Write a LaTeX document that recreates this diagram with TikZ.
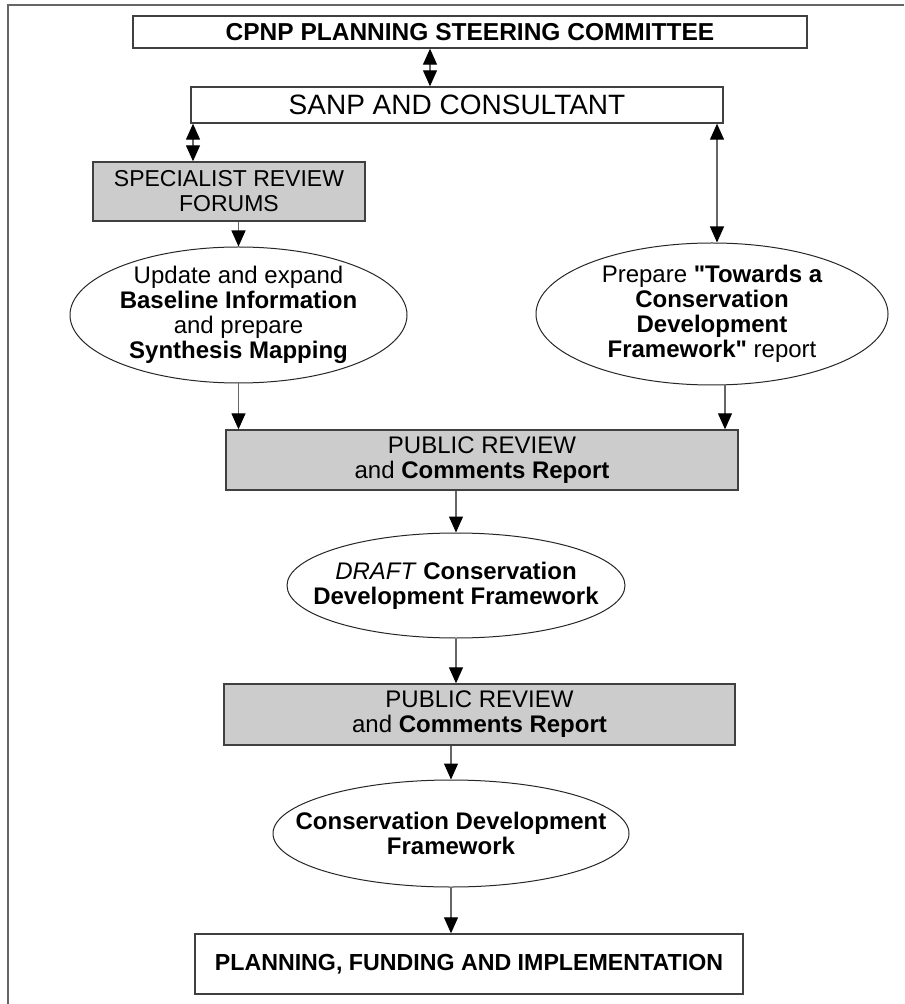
\documentclass[tikz,border=0pt]{standalone}
\usepackage{fontspec}
\setmainfont{Liberation Sans}
\newfontfamily\quotefont{Liberation Sans}[Ligatures=ResetAll]
\newcommand\straightquote{{\quotefont\char34}}
\usetikzlibrary{shapes.geometric,arrows.meta}

\begin{document}
\begin{tikzpicture}[x=0.5pt,y=-0.5pt,>={Triangle[width=7pt,length=8pt,color=black]},
  box/.style={draw=black!75,line width=0.7pt,rectangle,inner sep=0pt,align=center,font=\fontsize{12}{12.5}\selectfont},
  greybox/.style={box,fill=black!20},
  oval/.style={draw=black!85,line width=0.5pt,ellipse,inner xsep=-20pt,inner ysep=-3pt,align=center,font=\fontsize{12}{12.5}\selectfont},
  link/.style={->,draw=black!60,line width=0.6pt}]
\useasboundingbox (0,0) rectangle (904,1004);
\draw[black!60,line width=0.8pt] (8,1004) -- (8,5) -- (904,5);

\node[box,minimum width=337pt,minimum height=16pt,font=\bfseries\fontsize{12.25}{13}\selectfont] (cpnp) at (470,32) {CPNP PLANNING STEERING COMMITTEE};
\node[box,minimum width=266pt,minimum height=18pt,font=\fontsize{14}{15}\selectfont] (sanp) at (457,105) {SANP AND CONSULTANT};
\node[greybox,minimum width=136pt,minimum height=29.5pt,font=\fontsize{11.5}{12.5}\selectfont] (forums) at (229,191.5) {SPECIALIST REVIEW\\FORUMS};

\node[oval,minimum width=168.5pt,minimum height=68pt] (baseline) at (238.5,315) {Update and expand\\\textbf{Baseline Information}\\and prepare\\\textbf{Synthesis Mapping}};
\node[oval,minimum width=176pt,minimum height=71pt] (towards) at (712,314) {Prepare \textbf{\straightquote Towards a}\\\textbf{Conservation}\\\textbf{Development}\\\textbf{Framework\straightquote} report};

\node[greybox,minimum width=256pt,minimum height=30pt] (review1) at (482,460) {PUBLIC REVIEW\\and \textbf{Comments Report}};
\node[oval,minimum width=169pt,minimum height=52.5pt] (draft) at (456,585.5) {\textit{DRAFT} \textbf{Conservation}\\\textbf{Development Framework}};
\node[greybox,minimum width=255.5pt,minimum height=30.5pt] (review2) at (479.5,714.5) {PUBLIC REVIEW\\and \textbf{Comments Report}};
\node[oval,minimum width=178pt,minimum height=53.5pt] (cdf) at (451,833.5) {\textbf{Conservation Development}\\\textbf{Framework}};
\node[box,minimum width=274pt,minimum height=30pt,font=\bfseries\fontsize{11.6}{13}\selectfont] (plan) at (469,964) {PLANNING, FUNDING AND IMPLEMENTATION};

% two-way links to the consultant
\coordinate (cpnp-link) at ([xshift=-13.5pt]sanp.north);
\coordinate (forums-link) at ([xshift=-18pt]forums.north);
\coordinate (towards-link) at ([xshift=2.5pt]towards.north);
\draw[link,<->] (cpnp-link) -- (cpnp-link |- cpnp.south);
\draw[link,<->] (forums-link |- sanp.south) -- (forums-link);
\draw[link,<->] (towards-link |- sanp.south) -- (towards-link);

% flow down
\coordinate (towards-out) at ([xshift=6.5pt]towards.south);
\draw[link] (baseline.north |- forums.south) -- (baseline.north);
\draw[link] (baseline.south) -- (baseline.south |- review1.north);
\draw[link] (towards-out) -- (towards-out |- review1.north);
\draw[link] (draft.north |- review1.south) -- (draft.north);
\draw[link] (draft.south) -- (draft.south |- review2.north);
\draw[link] (cdf.north |- review2.south) -- (cdf.north);
\draw[link] (cdf.south) -- (cdf.south |- plan.north);
\end{tikzpicture}
\end{document}
